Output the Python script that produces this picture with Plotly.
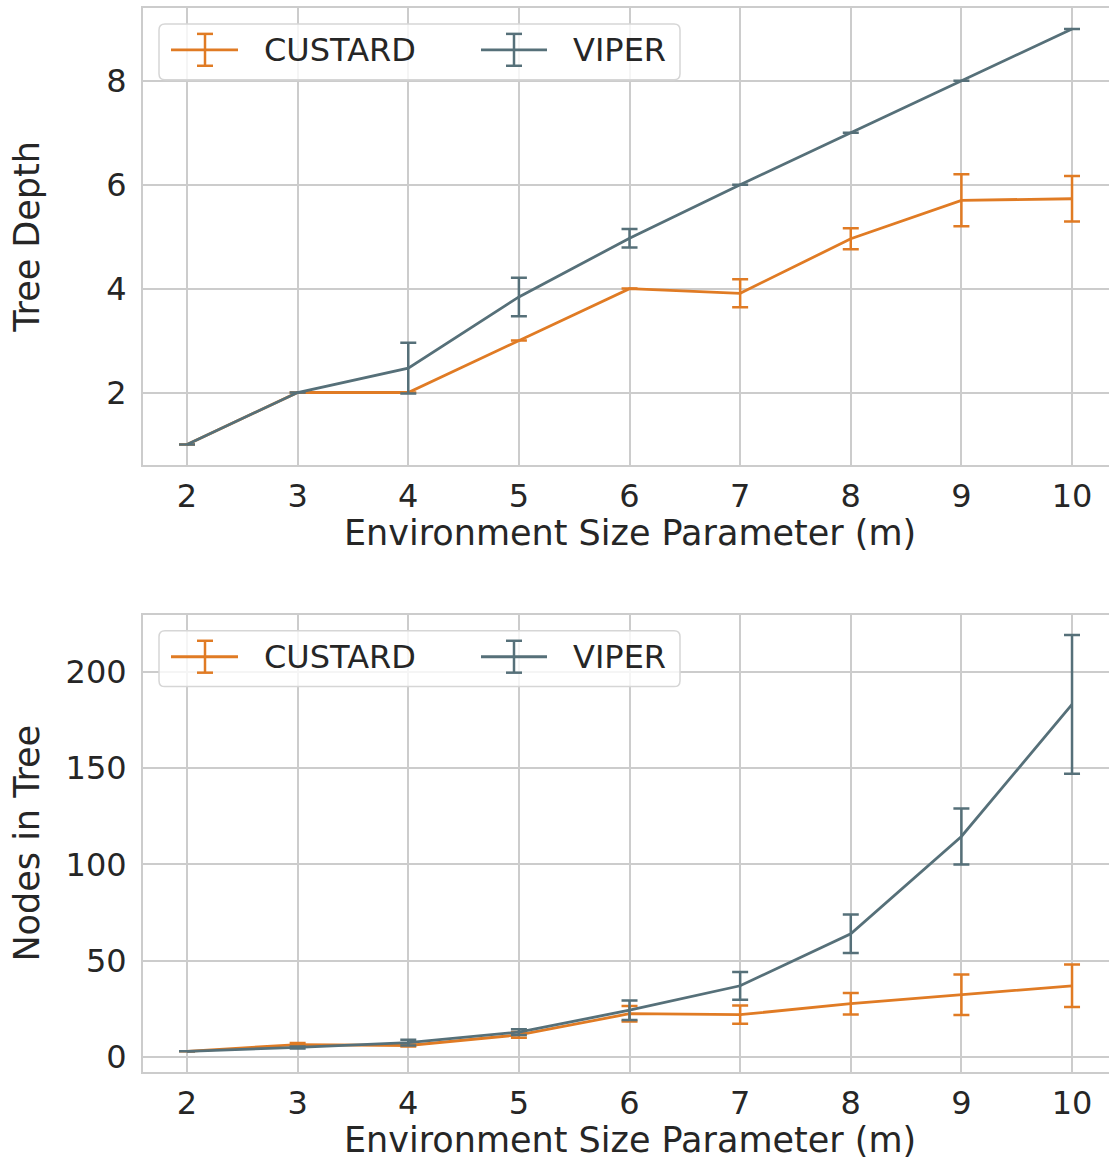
import plotly.graph_objects as go

# Environment size parameter (m)
env_size = [2, 3, 4, 5, 6, 7, 8, 9, 10]

# Tree depth (mean and error)
custard_depth = [1, 2, 2, 3, 4, 3.91, 4.96, 5.70, 5.73]
custard_depth_err = [0, 0, 0, 0, 0, 0.27, 0.20, 0.50, 0.44]
viper_depth = [1, 2, 2.47, 3.84, 4.97, 6, 7, 8, 9]
viper_depth_err = [0, 0, 0.49, 0.37, 0.18, 0, 0, 0, 0]

# Number of nodes in tree (mean and error)
custard_nodes = [3, 6.5, 6, 11.5, 22.5, 22, 27.7, 32.3, 37]
custard_nodes_err = [0, 0.8, 0.5, 1.5, 4, 4.7, 5.6, 10.5, 11]
viper_nodes = [3, 5, 7.5, 13, 24.3, 37, 64, 114.5, 183]
viper_nodes_err = [0, 0.5, 1.5, 1.5, 5, 7.2, 10, 14.5, 36]

series_names = ["CUSTARD", "VIPER"]
series_colors = ["#E07B24", "#567079"]

W, H = 1109, 1159
FONT = "DejaVu Sans"
TEXT = "#262626"
GRID = "#cccccc"


def px(x):
    return x / W


def py(y):
    return 1 - y / H


fig = go.Figure()

panels = [
    ("x", "y", [custard_depth, viper_depth], [custard_depth_err, viper_depth_err]),
    ("x2", "y2", [custard_nodes, viper_nodes], [custard_nodes_err, viper_nodes_err]),
]
for xa, ya, vals, errs in panels:
    for name, color, v, e in zip(series_names, series_colors, vals, errs):
        fig.add_trace(go.Scatter(
            x=env_size, y=v, name=name, mode="lines",
            line=dict(color=color, width=2.8),
            error_y=dict(type="data", array=e, visible=True, color=color,
                         thickness=2.5, width=8),
            xaxis=xa, yaxis=ya, showlegend=False,
        ))

# plot areas in pixels: (top, bottom)
plot_left = 143
tops = [(8, 467), (617, 1076)]

axis_common = dict(
    showgrid=True, gridcolor=GRID, gridwidth=2,
    showline=True, linecolor=GRID, linewidth=2,
    zeroline=False, ticks="",
    tickfont=dict(family=FONT, size=32, color=TEXT),
)

x_range = [1.602, 1.602 + (W - plot_left) / 110.625]
layout = dict(
    width=W, height=H,
    margin=dict(l=0, r=0, t=0, b=0),
    plot_bgcolor="white", paper_bgcolor="white",
    font=dict(family=FONT, color=TEXT),
    showlegend=False,
    xaxis=dict(axis_common, domain=[px(plot_left), 1], range=x_range,
               tickvals=env_size, anchor="y", mirror=True, ticklabelstandoff=1),
    yaxis=dict(axis_common, domain=[py(tops[0][1]), py(tops[0][0])],
               range=[0.597, 9.403], tickvals=[2, 4, 6, 8], anchor="x",
               ticklabelstandoff=8),
    xaxis2=dict(axis_common, domain=[px(plot_left), 1], range=x_range,
                tickvals=env_size, anchor="y2", mirror=True, ticklabelstandoff=1),
    yaxis2=dict(axis_common, domain=[py(tops[1][1]), py(tops[1][0])],
                range=[-7.9, 229.5], tickvals=[0, 50, 100, 150, 200], anchor="x2",
                ticklabelstandoff=8),
)
fig.update_layout(**layout)

annotations = []
shapes = []
y_titles = ["Tree Depth", "Nodes in Tree"]
for (top, bottom), ytitle in zip(tops, y_titles):
    # axis titles
    annotations.append(dict(
        text="Environment Size Parameter (m)", xref="paper", yref="paper",
        x=px(629.5), y=py(bottom + 68), xanchor="center", yanchor="middle",
        showarrow=False, font=dict(family=FONT, size=35, color=TEXT)))
    annotations.append(dict(
        text=ytitle, xref="paper", yref="paper", textangle=-90,
        x=px(27), y=py((top + bottom) / 2), xanchor="center", yanchor="middle",
        showarrow=False, font=dict(family=FONT, size=35, color=TEXT)))

    # legend frame with rounded corners
    x0, x1 = px(159), px(680)
    y1, y0 = py(top + 16), py(top + 72)
    rx, ry = 6 / W, 6 / H
    path = (f"M {x0+rx},{y1} L {x1-rx},{y1} Q {x1},{y1} {x1},{y1-ry} "
            f"L {x1},{y0+ry} Q {x1},{y0} {x1-rx},{y0} L {x0+rx},{y0} "
            f"Q {x0},{y0} {x0},{y0+ry} L {x0},{y1-ry} Q {x0},{y1} {x0+rx},{y1} Z")
    shapes.append(dict(type="path", path=path, xref="paper", yref="paper",
                       fillcolor="rgba(255,255,255,0.8)",
                       line=dict(color="#d6d6d6", width=1.5), layer="above"))

    # legend entries: line with error-bar glyph, then label
    cy = top + 42
    for (lx0, lx1, cap_x, tx), name, color in zip(
            [(171, 238, 205, 262), (481, 547, 514, 571)], series_names, series_colors):
        shapes.append(dict(type="line", xref="paper", yref="paper",
                           x0=px(lx0), x1=px(lx1), y0=py(cy), y1=py(cy),
                           line=dict(color=color, width=2.8), layer="above"))
        shapes.append(dict(type="line", xref="paper", yref="paper",
                           x0=px(cap_x), x1=px(cap_x), y0=py(cy - 16), y1=py(cy + 16),
                           line=dict(color=color, width=2.5), layer="above"))
        for cyy in (cy - 16, cy + 16):
            shapes.append(dict(type="line", xref="paper", yref="paper",
                               x0=px(cap_x - 8), x1=px(cap_x + 8), y0=py(cyy), y1=py(cyy),
                               line=dict(color=color, width=2.5), layer="above"))
        annotations.append(dict(
            text=name, xref="paper", yref="paper", x=px(tx), y=py(cy),
            xanchor="left", yanchor="middle", showarrow=False,
            font=dict(family=FONT, size=32, color=TEXT)))

fig.update_layout(annotations=annotations, shapes=shapes)
fig.write_html("out.html")
